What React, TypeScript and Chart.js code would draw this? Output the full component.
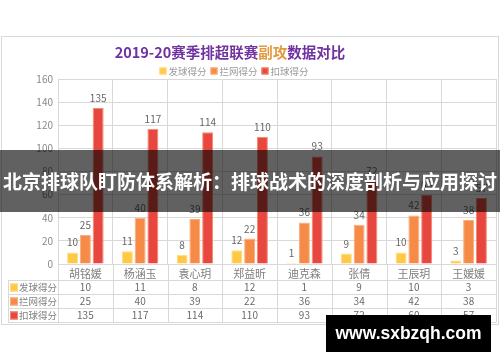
import React, { useEffect, useRef } from "react";
import { Chart, registerables } from "chart.js";

Chart.register(...registerables);

const players = ["胡铭媛", "杨涵玉", "袁心玥", "郑益昕", "迪克森", "张倩", "王辰玥", "王媛媛"];
const serveScores = [10, 11, 8, 12, 1, 9, 10, 3];
const blockScores = [25, 40, 39, 22, 36, 34, 42, 38];
const attackScores = [135, 117, 114, 110, 93, 72, 60, 57];
const seriesNames = ["发球得分", "拦网得分", "扣球得分"];
const yMin = 0;
const yMax = 160;
const yStep = 20;
const titleParts = [
  { text: "2019-20赛季排超联赛", color: "#7032A0" },
  { text: "副攻", color: "#E39A3E" },
  { text: "数据对比", color: "#7032A0" },
];
const bannerText = "北京排球队盯防体系解析：排球战术的深度剖析与应用探讨";
const watermarkText = "www.sxbzqh.com";

const fills = ["#FFC845", "#F68B47", "#E8473F"];
const borders = ["#FFDB82", "#F9AE7B", "#F28A6E"];
const FONT = "'Noto Sans CJK SC', 'Noto Sans', sans-serif";
const GRID = "#d9d9d9";

const seriesValues = [serveScores, blockScores, attackScores];

const overlayPlugin = {
  id: "overlay",
  beforeDraw(chart: any) {
    const ctx = chart.ctx as CanvasRenderingContext2D;
    ctx.save();
    ctx.fillStyle = "#ffffff";
    ctx.fillRect(0, 0, chart.width, chart.height);
    // frame
    ctx.strokeStyle = GRID;
    ctx.lineWidth = 1;
    ctx.strokeRect(1.5, 36.5, 497, 288);
    // title
    ctx.font = `bold 14.5px ${FONT}`;
    ctx.textBaseline = "middle";
    ctx.textAlign = "left";
    const total = titleParts.reduce((s, p) => s + ctx.measureText(p.text).width, 0);
    let tx = 230 - total / 2;
    for (const p of titleParts) {
      ctx.fillStyle = p.color;
      ctx.fillText(p.text, tx, 52);
      tx += ctx.measureText(p.text).width;
    }
    // legend
    ctx.font = `9.5px ${FONT}`;
    const key = 7;
    const widths = seriesNames.map((n) => key + 2 + ctx.measureText(n).width);
    const gap = 4;
    const lw = widths.reduce((a, b) => a + b, 0) + gap * (seriesNames.length - 1);
    let lx = 234 - lw / 2;
    const ly = 71;
    seriesNames.forEach((n, i) => {
      ctx.fillStyle = fills[i];
      ctx.fillRect(lx, ly - key / 2, key, key);
      ctx.strokeStyle = borders[i];
      ctx.strokeRect(lx + 0.5, ly - key / 2 + 0.5, key - 1, key - 1);
      ctx.fillStyle = "#9a9a9a";
      ctx.fillText(n, lx + key + 2, ly);
      lx += widths[i] + gap;
    });
    ctx.restore();
  },
  afterDatasetsDraw(chart: any) {
    const ctx = chart.ctx as CanvasRenderingContext2D;
    ctx.save();
    ctx.font = `10px ${FONT}`;
    ctx.fillStyle = "#666666";
    ctx.textAlign = "center";
    ctx.textBaseline = "alphabetic";
    chart.data.datasets.forEach((ds: any, di: number) => {
      const meta = chart.getDatasetMeta(di);
      meta.data.forEach((bar: any, i: number) => {
        ctx.fillText(String(ds.data[i]), bar.x, bar.y - 6);
      });
    });
    ctx.restore();
  },
  afterDraw(chart: any) {
    const ctx = chart.ctx as CanvasRenderingContext2D;
    const area = chart.chartArea;
    const n = players.length;
    const colW = (area.right - area.left) / n;
    const tableLeft = 8;
    const rowTop = 280;
    const rowH = 14;
    ctx.save();
    ctx.strokeStyle = GRID;
    ctx.lineWidth = 1;
    ctx.beginPath();
    for (let i = 0; i <= n; i++) {
      const x = Math.round(area.left + i * colW) + 0.5;
      ctx.moveTo(x, area.bottom);
      ctx.lineTo(x, rowTop + rowH * 3);
    }
    for (let r = 0; r <= 3; r++) {
      const y = rowTop + r * rowH + 0.5;
      ctx.moveTo(tableLeft, y);
      ctx.lineTo(Math.round(area.right) + 0.5, y);
    }
    ctx.moveTo(tableLeft + 0.5, rowTop);
    ctx.lineTo(tableLeft + 0.5, rowTop + rowH * 3);
    ctx.stroke();

    ctx.textBaseline = "middle";
    seriesNames.forEach((name, r) => {
      const cy = rowTop + r * rowH + rowH / 2 + 0.5;
      ctx.fillStyle = fills[r];
      ctx.fillRect(10, cy - 4, 8, 8);
      ctx.strokeStyle = borders[r];
      ctx.strokeRect(10.5, cy - 3.5, 7, 7);
      ctx.font = `9.5px ${FONT}`;
      ctx.fillStyle = "#808080";
      ctx.textAlign = "left";
      ctx.fillText(name, 19, cy);
      ctx.font = `10px ${FONT}`;
      ctx.fillStyle = "#6a6a6a";
      ctx.textAlign = "center";
      seriesValues[r].forEach((v, i) => {
        ctx.fillText(String(v), area.left + (i + 0.5) * colW, cy);
      });
    });

    // banner
    ctx.fillStyle = "rgba(0,0,0,0.62)";
    ctx.fillRect(0, 150, 500, 62);
    ctx.fillStyle = "#ffffff";
    ctx.font = `bold 19.7px ${FONT}`;
    ctx.textAlign = "center";
    ctx.textBaseline = "middle";
    ctx.fillText(bannerText, 250, 182, 494);

    // watermark
    ctx.fillStyle = "#000000";
    ctx.fillRect(326, 315, 165, 37);
    ctx.fillStyle = "#ffffff";
    ctx.font = `bold 17.5px 'Liberation Sans', Arial, sans-serif`;
    ctx.fillText(watermarkText, 408.5, 334, 146);
    ctx.restore();
  },
};

export default function App() {
  const ref = useRef<HTMLCanvasElement | null>(null);
  useEffect(() => {
    document.body.style.margin = "0";
    const canvas = ref.current!;
    const chart = new Chart(canvas, {
      type: "bar",
      data: {
        labels: players,
        datasets: seriesNames.map((name, i) => ({
          label: name,
          data: seriesValues[i],
          backgroundColor: fills[i],
          borderColor: borders[i],
          borderWidth: 1,
          categoryPercentage: 0.7,
          barPercentage: 0.86,
        })),
      },
      options: {
        animation: false,
        responsive: false,
        devicePixelRatio: 1,
        layout: { padding: { top: 79, left: 0, right: 4, bottom: 82 } },
        plugins: {
          legend: { display: false },
          title: { display: false },
          tooltip: { enabled: false },
        },
        scales: {
          x: {
            grid: { color: GRID, drawTicks: false, offset: true },
            border: { display: true, color: GRID },
            ticks: { color: "#7f7f7f", font: { family: FONT, size: 11 }, padding: 3, maxRotation: 0, autoSkip: false },
            afterFit: (s: any) => {
              s.height = 16;
            },
          },
          y: {
            min: yMin,
            max: yMax,
            grid: { color: GRID, drawTicks: false },
            border: { display: true, color: GRID },
            ticks: { stepSize: yStep, color: "#888888", font: { family: FONT, size: 10 }, padding: 5 },
            afterFit: (s: any) => {
              s.width = 58;
            },
          },
        },
      },
      plugins: [overlayPlugin],
    });
    return () => chart.destroy();
  }, []);
  return (
    <div style={{ position: "absolute", left: 0, top: 0, width: 500, height: 362 }}>
      <canvas ref={ref} width={500} height={362} style={{ display: "block" }} />
    </div>
  );
}
